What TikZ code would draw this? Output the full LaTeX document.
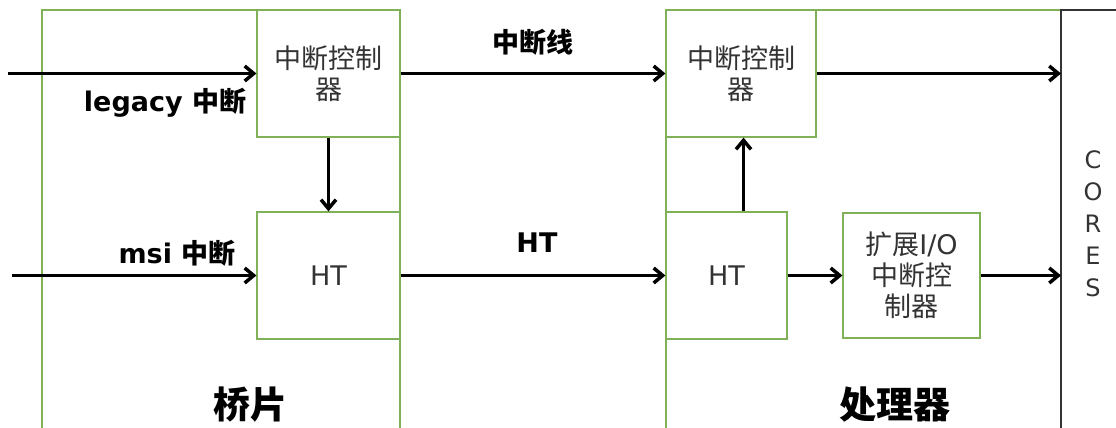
\documentclass[tikz,border=0pt]{standalone}
\usepackage{fontspec}
\setmainfont{DejaVu Sans}
\newfontfamily\cjk{Noto Sans CJK SC}
\usetikzlibrary{arrows.meta}
\definecolor{boxgreen}{RGB}{128,176,88}

\tikzset{
  unit/.style={draw=boxgreen, line width=1.2pt, minimum width=143pt, minimum height=127pt,
    align=center, inner sep=0pt, text=black!80, font=\fontsize{27}{31}\selectfont},
  sig/.style={line width=3.5pt, -{Straight Barb[length=9pt,width=15pt]}},
  lbl/.style={font=\bfseries\fontsize{27}{30}\selectfont},
  chip/.style={font=\cjk\bfseries\fontsize{37}{40}\selectfont},
}

\begin{document}
\begin{tikzpicture}[x=1pt,y=-1pt]
	%%%%% START %%%%%
	\useasboundingbox (0,0) rectangle (1116,428);
	\clip (0,0) rectangle (1116,428);
	
	\draw[draw=boxgreen, line width=1.2pt] (42,10) rectangle (400,450);
	\draw[draw=boxgreen, line width=1.2pt] (666,10) rectangle (1061,450);
	\draw[black!80, line width=1.5pt] (1061,450) -- (1061,10) -- (1130,10);
	
	\node[unit] (ctrlA) at (328.5,73.5) {\cjk 中断控制\\\cjk 器};
	\node[unit] (htA) at (328.5,275.5) {HT};
	\node[unit, minimum width=150pt] (ctrlB) at (741,73.5) {\cjk 中断控制\\\cjk 器};
	\node[unit, minimum width=121pt] (htB) at (726.5,275.5) {HT};
	\node[unit, minimum width=137pt, minimum height=125pt] (ioB) at (911.5,275.5) {{\cjk 扩展}I/O\\\cjk 中断控\\\cjk 制器};
	
	\coordinate (inA) at (8,73.5);
	\coordinate (inB) at (12,275.5);
	\coordinate (cores) at (1061,10);
	
	\draw[sig] (inA) -- (ctrlA.west);
	\draw[sig] (inB) -- (htA.west);
	\draw[sig] (ctrlA.south) -- (htA.north);
	\draw[sig] (ctrlA.east) -- (ctrlB.west);
	\draw[sig] (htA.east) -- (htB.west);
	\draw[sig] ([xshift=17pt]htB.north) -- ([xshift=17pt]htB.north |- ctrlB.south);
	\draw[sig] (ctrlB.east) -- (ctrlB.east -| cores);
	\draw[sig] (htB.east) -- (ioB.west);
	\draw[sig] (ioB.east) -- (ioB.east -| cores);
	
	\node[lbl] (legacy) at (165,103) {legacy {\cjk\bfseries 中断}};
	\node[lbl] (msi) at (177,253) {msi {\cjk\bfseries 中断}};
	\node[lbl] (line) at (533,42) {\cjk\bfseries 中断线};
	\node[lbl] (ht) at (537,243) {HT};
	\node[chip] (bridge) at (250,405) {桥片};
	\node[chip] (cpu) at (895,405) {处理器};
	\node[align=center, text=black!80, font=\fontsize{24}{32}\selectfont] (coreslbl) at (1093,224) {C\\O\\R\\E\\S};
	
	%%%%% END %%%%%
\end{tikzpicture}
\end{document}
